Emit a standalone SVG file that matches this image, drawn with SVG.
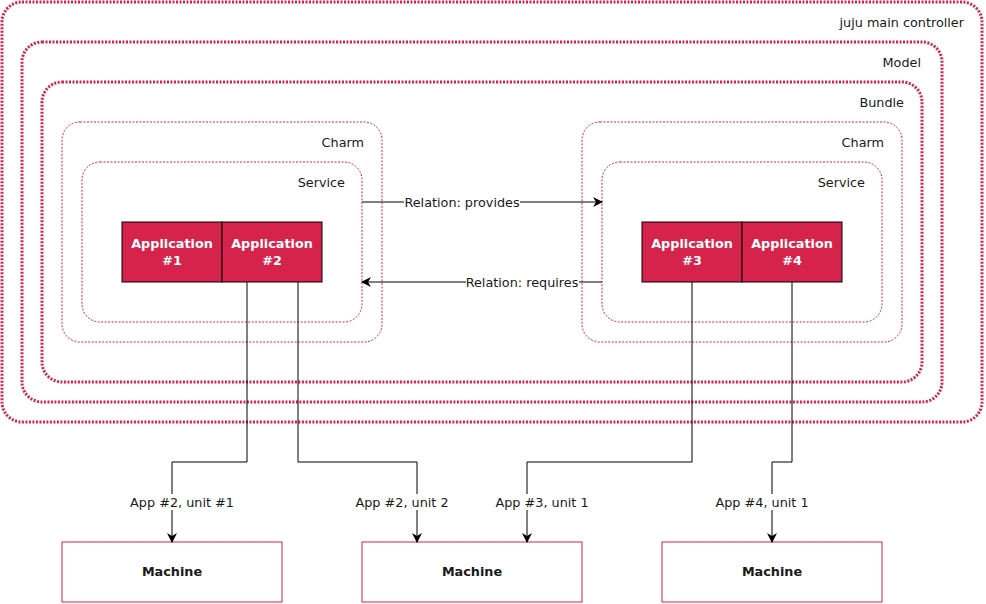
<svg xmlns="http://www.w3.org/2000/svg" width="986" height="604" viewBox="0 0 986 604">
<defs>
<style>
text{font-family:"DejaVu Sans","Liberation Sans",sans-serif;font-size:12.8px;fill:#1a1a1a}
.thick{fill:none;stroke:#D6234B;stroke-width:3;stroke-dasharray:2 1.5}
.thin{fill:none;stroke:#D6234B;stroke-width:1;stroke-dasharray:2 1.5}
.app{fill:#D6234B;stroke:#000;stroke-width:1}
.apptxt{fill:#fff;font-weight:bold;text-anchor:middle}
.mach{fill:#fff;stroke:#D6234B;stroke-width:1}
.machtxt{font-weight:bold;text-anchor:middle}
.lbl{text-anchor:end}
.edge{fill:none;stroke:#000;stroke-width:1}
.elbl{text-anchor:middle}
</style>
<marker id="arr" viewBox="0 0 10 10" refX="9" refY="5" markerWidth="10" markerHeight="10" markerUnits="userSpaceOnUse" orient="auto">
<path d="M0,0 L10,5 L0,10 L3,5 Z" fill="#000"/>
</marker>
</defs>
<g id="controller"><rect class="thick" x="2" y="2" width="980" height="420" rx="20"/><text class="lbl" x="964" y="27">juju main controller</text></g>
<g id="model"><rect class="thick" x="22" y="42" width="920" height="360" rx="20"/><text class="lbl" x="921" y="67">Model</text></g>
<g id="bundle"><rect class="thick" x="42" y="82" width="880" height="300" rx="20"/><text class="lbl" x="904" y="107">Bundle</text></g>
<g id="charm1"><rect class="thin" x="62" y="122" width="320" height="220" rx="18"/><text class="lbl" x="364" y="147">Charm</text></g>
<g id="service1"><rect class="thin" x="82" y="162" width="280" height="160" rx="18"/><text class="lbl" x="345" y="187">Service</text></g>
<g id="charm2"><rect class="thin" x="582" y="122" width="320" height="220" rx="18"/><text class="lbl" x="884" y="147">Charm</text></g>
<g id="service2"><rect class="thin" x="602" y="162" width="280" height="160" rx="18"/><text class="lbl" x="865" y="187">Service</text></g>
<g id="app1"><rect class="app" x="122" y="222" width="100" height="60"/><text class="apptxt" x="172" y="248">Application</text><text class="apptxt" x="172" y="265">#1</text></g>
<g id="app2"><rect class="app" x="222" y="222" width="100" height="60"/><text class="apptxt" x="272" y="248">Application</text><text class="apptxt" x="272" y="265">#2</text></g>
<g id="app3"><rect class="app" x="642" y="222" width="100" height="60"/><text class="apptxt" x="692" y="248">Application</text><text class="apptxt" x="692" y="265">#3</text></g>
<g id="app4"><rect class="app" x="742" y="222" width="100" height="60"/><text class="apptxt" x="792" y="248">Application</text><text class="apptxt" x="792" y="265">#4</text></g>
<g id="machine1"><rect class="mach" x="62" y="542" width="220" height="60"/><text class="machtxt" x="172" y="576">Machine</text></g>
<g id="machine2"><rect class="mach" x="362" y="542" width="220" height="60"/><text class="machtxt" x="472" y="576">Machine</text></g>
<g id="machine3"><rect class="mach" x="662" y="542" width="220" height="60"/><text class="machtxt" x="772" y="576">Machine</text></g>
<g id="connectors">
<path class="edge" d="M362,202 H602" marker-end="url(#arr)"/>
<path class="edge" d="M602,282 H362" marker-end="url(#arr)"/>
<path class="edge" d="M247,282 V462 H172 V542" marker-end="url(#arr)"/>
<path class="edge" d="M298,282 V462 H417 V542" marker-end="url(#arr)"/>
<path class="edge" d="M692,282 V462 H527 V542" marker-end="url(#arr)"/>
<path class="edge" d="M792,282 V462 H772 V542" marker-end="url(#arr)"/>
<rect x="404" y="194" width="116" height="16" fill="#fff"/>
<text class="elbl" x="462" y="207">Relation: provides</text>
<rect x="466" y="274" width="113" height="16" fill="#fff"/>
<text class="elbl" x="522" y="287">Relation: requires</text>
<rect x="130" y="494" width="104" height="16" fill="#fff"/>
<text class="elbl" x="182" y="507">App #2, unit #1</text>
<rect x="355" y="494" width="94" height="16" fill="#fff"/>
<text class="elbl" x="402" y="507">App #2, unit 2</text>
<rect x="495" y="494" width="94" height="16" fill="#fff"/>
<text class="elbl" x="542" y="507">App #3, unit 1</text>
<rect x="715" y="494" width="94" height="16" fill="#fff"/>
<text class="elbl" x="762" y="507">App #4, unit 1</text>
</g>
</svg>
